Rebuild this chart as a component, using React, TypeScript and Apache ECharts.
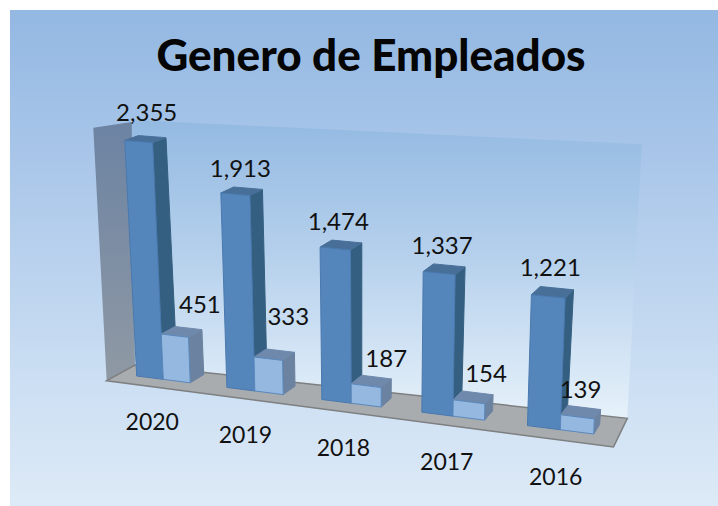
import React, { useEffect, useRef } from "react";
import * as echarts from "echarts";

const titleText = "Genero de Empleados";
const categories = ["2020", "2019", "2018", "2017", "2016"];
const seriesLarge = [2355, 1913, 1474, 1337, 1221];
const seriesSmall = [451, 333, 187, 154, 139];

const FONT = "Lato, Carlito, 'Open Sans', sans-serif";
type P = [number, number];

// Perspective box the flat grid is projected into (front/back, bottom/top, left/right)
const FBL: P = [136.7, 376], FBR: P = [593.7, 434], FTL: P = [124, 126], FTR: P = [605.3, 163];
const BBL: P = [151.2, 368], BBR: P = [599.7, 424.5], BTL: P = [137.5, 121.3], BTR: P = [615.3, 155.5];
const GROUP = 0.6; // share of a category band used by both bars
const FORESHORTEN = 0.885;

const lerp = (a: P, b: P, k: number): P => [a[0] + (b[0] - a[0]) * k, a[1] + (b[1] - a[1]) * k];
const project = (t: number, v: number, d: number): P =>
  lerp(
    lerp(lerp(FBL, FBR, t), lerp(FTL, FTR, t), v),
    lerp(lerp(BBL, BBR, t), lerp(BTL, BTR, t), v),
    d
  );

// Label nudges relative to the top of each bar (layout only)
const largeLabelNudge: P[] = [[8, -30], [5, -27], [3, -28], [3, -29], [2, -30]];
const smallLabelNudge: P[] = [[25, -32], [20, -43], [20, -28], [17, -29], [3, -28]];

const palette = {
  large: { front: "#5486BC", side: "#355F80", top: "#476F98", stroke: "#4A79AE" },
  small: { front: "#95B8E0", side: "#6B82A0", top: "#6F89AC", stroke: "#5A88BC" },
};

function barRenderer(values: number[], slot: 0 | 1, colors: typeof palette.large, nudges: P[]) {
  return (params: any, api: any) => {
    const i = api.value(0);
    const val = api.value(1);
    const cs = params.coordSys;
    const band = api.size([1, 0])[0];
    const center = api.coord([i, 0]);
    const topFlat = api.coord([i, val]);
    const bottomY = cs.y + cs.height;
    const v = (bottomY - topFlat[1]) / cs.height;
    const first = center[0] - (GROUP * band) / 2;
    const left = first + (slot * GROUP * band) / 2;
    const right = left + (GROUP * band) / 2;
    const gridStart = cs.x + cs.width * ((1 - GROUP) / 10);
    const gridSpan = cs.width * (1 - (1 - GROUP) / 5);
    const toT = (x: number) => {
      const s = (x - gridStart) / gridSpan;
      return (FORESHORTEN * s) / (1 + (FORESHORTEN - 1) * s);
    };
    const t0 = toT(left);
    const t1 = toT(right);
    const a = project(t0, 0, 0), b = project(t1, 0, 0), c = project(t1, v, 0), e = project(t0, v, 0);
    const f = project(t1, 0, 1), g = project(t1, v, 1), h = project(t0, v, 1);
    const poly = (points: P[], fill: string, stroke: string) => ({
      type: "polygon",
      shape: { points },
      style: { fill, stroke, lineWidth: 1 },
    });
    const children: any[] = [
      poly([b, f, g, c], colors.side, colors.side),
      poly([e, c, g, h], colors.top, colors.top),
      poly([a, b, c, e], colors.front, colors.stroke),
      {
        type: "text",
        style: {
          text: values[i].toLocaleString("en-US"),
          x: (e[0] + c[0]) / 2 + nudges[i][0],
          y: (e[1] + c[1]) / 2 + nudges[i][1],
          font: `24px ${FONT}`,
          fill: "#111",
          align: "center",
          verticalAlign: "middle",
        },
      },
    ];
    if (slot === 0) {
      children.push({
        type: "text",
        style: {
          text: categories[i],
          x: b[0] - 11 + i * 1.6,
          y: b[1] + 42 + i,
          font: `23px ${FONT}`,
          fill: "#111",
          align: "center",
          verticalAlign: "middle",
        },
      });
    }
    return { type: "group", children };
  };
}

export default function App() {
  const ref = useRef<HTMLDivElement>(null);
  useEffect(() => {
    document.body.style.margin = "0";
    document.body.style.background = "#fff";
    const chart = echarts.init(ref.current!, undefined, { renderer: "svg" });
    const vGrad = (stops: [number, string][]) =>
      new echarts.graphic.LinearGradient(0, 0, 0, 1, stops.map(([offset, color]) => ({ offset, color })));
    chart.setOption({
      animation: false,
      backgroundColor: "#ffffff",
      title: {
        text: titleText,
        left: 366,
        top: 27,
        textAlign: "center",
        textStyle: { fontFamily: FONT, fontWeight: 900, fontSize: 44, color: "#050505" },
      },
      graphic: [
        {
          type: "rect",
          z: 0,
          shape: { x: 10, y: 10, width: 708, height: 496 },
          style: {
            fill: vGrad([[0, "#93B8E2"], [0.3, "#A9C6E9"], [0.75, "#CCDFF3"], [1, "#DDEAF7"]]),
          },
        },
        {
          type: "polygon",
          z: 1,
          shape: { points: [[132, 120], [641.7, 144.3], [627.3, 418.3], [135, 365]] },
          style: { fill: vGrad([[0, "#94BAE2"], [0.45, "#B5D0EC"], [1, "#E6F1FA"]]) },
        },
        {
          type: "polygon",
          z: 2,
          shape: { points: [[93.3, 127.7], [131.7, 122], [135, 365], [106.7, 380.7]] },
          style: { fill: vGrad([[0, "#6C83A3"], [1, "#8F99A4"]]) },
        },
        {
          type: "polygon",
          z: 2,
          shape: { points: [[106.7, 380.7], [135, 365], [627.3, 418.3], [613.5, 447]] },
          style: { fill: "#A9ACAF", stroke: "#7D7F80", lineWidth: 1.5 },
        },
      ],
      grid: { left: 100, right: 100, top: 100, bottom: 100, show: false },
      xAxis: { type: "category", data: categories, show: false },
      yAxis: { type: "value", min: 0, max: 2500, show: false },
      series: [
        {
          type: "custom",
          z: 5,
          silent: true,
          renderItem: barRenderer(seriesLarge, 0, palette.large, largeLabelNudge),
          data: seriesLarge.map((val, i) => [i, val]),
          encode: { x: 0, y: 1 },
        },
        {
          type: "custom",
          z: 6,
          silent: true,
          renderItem: barRenderer(seriesSmall, 1, palette.small, smallLabelNudge),
          data: seriesSmall.map((val, i) => [i, val]),
          encode: { x: 0, y: 1 },
        },
      ],
    });
    return () => chart.dispose();
  }, []);
  return <div ref={ref} style={{ position: "absolute", left: 0, top: 0, width: 718, height: 506 }} />;
}
